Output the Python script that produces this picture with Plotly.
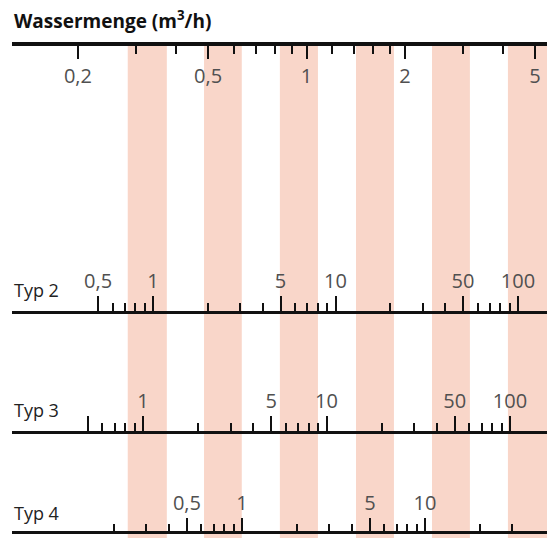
import plotly.graph_objects as go

# ---------------- data ----------------
title_text = "Wassermenge (m<sup>3</sup>/h)"

top_major = [0.2, 0.5, 1, 2, 5]
top_major_text = ["0,2", "0,5", "1", "2", "5"]
top_minor = [0.3, 0.4, 0.6, 0.7, 0.8, 0.9, 1.2, 1.4, 1.6, 1.8, 3, 4]

typ_names = ["Typ 2", "Typ 3", "Typ 4"]

typ2_major = [0.5, 1, 5, 10, 50, 100]
typ2_major_text = ["0,5", "1", "5", "10", "50", "100"]
typ2_minor = [0.6, 0.7, 0.8, 0.9, 2, 3, 4, 6, 7, 8, 9, 20, 30, 40, 60, 70, 80, 90]

typ3_major = [0.5, 1, 5, 10, 50, 100]
typ3_major_text = [" ", "1", "5", "10", "50", "100"]
typ3_minor = [0.6, 0.7, 0.8, 0.9, 2, 3, 4, 6, 7, 8, 9, 20, 30, 40, 60, 70, 80, 90]

typ4_major = [0.5, 1, 5, 10]
typ4_major_text = ["0,5", "1", "5", "10"]
typ4_minor = [0.2, 0.3, 0.4, 0.6, 0.7, 0.8, 0.9, 2, 3, 4, 6, 7, 8, 9, 20, 30]

# highlighted bands on the Wassermenge scale (m3/h)
band_start = [0.284, 0.486, 0.829, 1.417, 2.42, 4.13]
band_end = [0.374, 0.634, 1.084, 1.851, 3.16, 5.5]

# ---------------- layout constants ----------------
W, H = 547, 538
X0 = 12  # left end of scale lines (px)


def log_range(offset_px, px_per_decade):
    return [(X0 - offset_px) / px_per_decade, (W - offset_px) / px_per_decade]


def ypos(px):
    return 1 - px / H


TICK_FONT = dict(family="Open Sans", size=20, color="#505050")
LINE_COLOR = "#111111"
BAND_COLOR = "#f9d6c9"

fig = go.Figure()

# bands (drawn on the top scale)
for a, b in zip(band_start, band_end):
    fig.add_trace(go.Scatter(
        x=[a, b, b, a, a], y=[45, 45, H, H, 45],
        mode="lines", fill="toself", fillcolor=BAND_COLOR,
        line=dict(width=0), hoverinfo="skip", showlegend=False,
        xaxis="x", yaxis="y"))

# invisible anchors for the other scales
for ax, vals in (("x2", typ2_major), ("x3", typ3_major), ("x4", typ4_major)):
    fig.add_trace(go.Scatter(x=[vals[1]], y=[300], mode="markers",
                             marker=dict(opacity=0), hoverinfo="skip",
                             showlegend=False, xaxis=ax, yaxis="y"))


def scale_axis(rng, pos, side, major, major_text, minor, lw, tlen, mlen):
    d = dict(
        type="log", range=rng, domain=[X0 / W, 1], anchor="free",
        position=pos, side=side, showgrid=False, zeroline=False,
        showline=True, linecolor=LINE_COLOR, linewidth=lw,
        ticks="outside", ticklen=tlen, tickwidth=2, tickcolor=LINE_COLOR,
        tickmode="array", tickvals=major, ticktext=major_text,
        tickfont=TICK_FONT, fixedrange=True,
        minor=dict(tickmode="array", tickvals=minor, ticklen=mlen,
                   tickwidth=2, tickcolor=LINE_COLOR, ticks="outside",
                   showgrid=False),
    )
    return d


fig.update_layout(
    width=W, height=H,
    margin=dict(l=0, r=0, t=0, b=0),
    paper_bgcolor="white", plot_bgcolor="white",
    showlegend=False,
    xaxis=scale_axis(log_range(306.5, 327), ypos(44), "bottom",
                     top_major, top_major_text, top_minor, 4, 13, 8),
    xaxis2=dict(**scale_axis(log_range(153, 182.5), ypos(312), "top",
                             typ2_major, typ2_major_text, typ2_minor, 3, 15, 8),
                overlaying="x"),
    xaxis3=dict(**scale_axis(log_range(143, 183.5), ypos(432), "top",
                             typ3_major, typ3_major_text, typ3_minor, 3, 15, 8),
                overlaying="x"),
    xaxis4=dict(**scale_axis(log_range(242, 183), ypos(532), "top",
                             typ4_major, typ4_major_text, typ4_minor, 3, 13, 7),
                overlaying="x"),
    yaxis=dict(range=[H, 0], domain=[0, 1], visible=False, fixedrange=True),
)

# title
fig.add_annotation(x=X0 / W, y=ypos(20), xref="paper", yref="paper",
                   xanchor="left", yanchor="middle", showarrow=False,
                   text="<b>" + title_text + "</b>",
                   font=dict(family="Open Sans", size=19, color="#111111"))

# Typ labels
for name, ypx in zip(typ_names, [290, 410, 513]):
    fig.add_annotation(x=X0 / W, y=ypos(ypx), xref="paper", yref="paper",
                       xanchor="left", yanchor="middle", showarrow=False,
                       text=name,
                       font=dict(family="Open Sans", size=18, color="#222222"))

fig.write_html("out.html",
               config={"displayModeBar": False},
               post_script="document.body.style.margin='0px';"
                           "document.body.style.overflow='hidden';")
